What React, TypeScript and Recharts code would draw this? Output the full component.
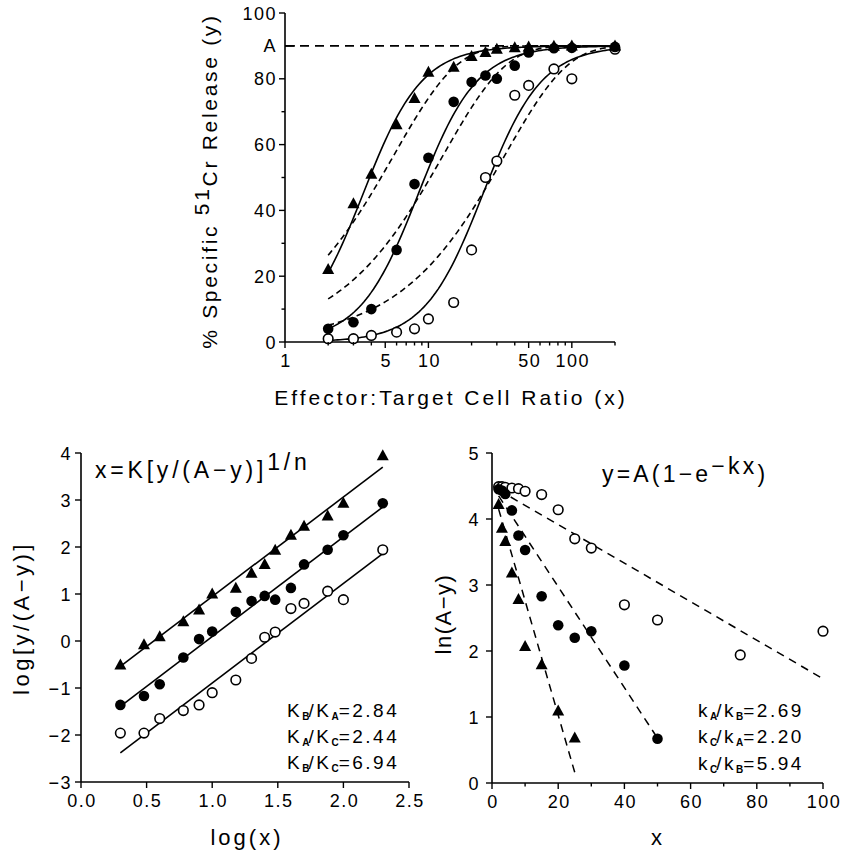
import React from 'react';
import { ComposedChart, Scatter, XAxis, YAxis, ReferenceLine } from 'recharts';

// ---------- shared constants ----------
const A_MAX = 90; // plateau "A"

// ---------- Top panel: % specific 51Cr release vs E:T ratio ----------
const ratioX = [2, 3, 4, 6, 8, 10, 15, 20, 25, 30, 40, 50, 75, 100, 200];
const releaseTriangle = [22, 42, 51, 66, 74, 82, 83.5, 86.8, 88, 89, 89.4, 89.7, 89.9, 90, 90];
const releaseFilled = [4, 6, 10, 28, 48, 56, 73, 79, 81, 80, 84, 88, 89.3, 89.4, 89.7];
const releaseOpen = [1, 1, 2, 3, 4, 7, 12, 28, 50, 55, 75, 78, 83, 80, 89];

// fitted model parameters (Hill: x=K[y/(A-y)]^(1/n); exponential: y=A(1-e^-kx))
const hillN = 2.12;
const hillK = { tri: 3.5, filled: 8.5, open: 24 };
const expK = { tri: 0.1735, filled: 0.0786, open: 0.0292 };
const curveStart = 2;
const curveEnd = 200;

const topXTicks = [1, 2, 3, 4, 5, 6, 7, 8, 9, 10, 20, 30, 40, 50, 60, 70, 80, 90, 100, 200];
const topXLabels: Record<string, string> = { '1': '1', '5': '5', '10': '10', '50': '50', '100': '100' };
const topYTicks = [0, 10, 20, 30, 40, 50, 60, 70, 80, 90, 100];
const topYLabels: Record<string, string> = { '0': '0', '20': '20', '40': '40', '60': '60', '80': '80', '100': '100', '90': 'A' };

// ---------- Bottom-left panel: log[y/(A-y)] vs log(x) ----------
const logX = [0.3, 0.48, 0.6, 0.78, 0.9, 1.0, 1.18, 1.3, 1.4, 1.48, 1.6, 1.7, 1.88, 2.0, 2.3];
const logRatioTriangle = [-0.51, -0.08, 0.09, 0.41, 0.66, 1.0, 1.12, 1.44, 1.63, 1.93, 2.25, 2.44, 2.66, 2.93, 3.94];
const logRatioFilled = [-1.36, -1.17, -0.92, -0.35, 0.04, 0.2, 0.62, 0.85, 0.96, 0.88, 1.13, 1.63, 1.94, 2.25, 2.93];
const logRatioOpen = [-1.96, -1.96, -1.65, -1.48, -1.36, -1.1, -0.83, -0.37, 0.08, 0.19, 0.69, 0.8, 1.06, 0.88, 1.94];
const logFitTriangle = [[0.3, -0.54], [2.3, 3.7]];
const logFitFilled = [[0.3, -1.39], [2.3, 2.85]];
const logFitOpen = [[0.3, -2.38], [2.3, 1.86]];
const blXTicks = [0, 0.5, 1, 1.5, 2, 2.5];
const blXLabels: Record<string, string> = { '0': '0.0', '0.5': '0.5', '1': '1.0', '1.5': '1.5', '2': '2.0', '2.5': '2.5' };
const blYTicks = [-3, -2, -1, 0, 1, 2, 3, 4];
const blYLabels: Record<string, string> = { '-3': '−3', '-2': '−2', '-1': '−1', '0': '0', '1': '1', '2': '2', '3': '3', '4': '4' };

// ---------- Bottom-right panel: ln(A-y) vs x ----------
const linX = [2, 3, 4, 6, 8, 10, 15, 20, 25, 30, 40, 50, 75, 100];
const lnTriangle = [4.22, 3.86, 3.66, 3.18, 2.78, 2.07, 1.79, 1.09, 0.68];
const lnFilled = [4.45, 4.43, 4.38, 4.13, 3.75, 3.53, 2.83, 2.39, 2.2, 2.3, 1.78, 0.67];
const lnOpen = [4.49, 4.49, 4.48, 4.47, 4.46, 4.42, 4.37, 4.14, 3.7, 3.56, 2.7, 2.47, 1.94, 2.3];
const lnFitTriangle = [[2, 4.15], [25, 0.16]];
const lnFitFilled = [[2, 4.35], [50, 0.68]];
const lnFitOpen = [[2, 4.44], [100, 1.58]];
const brXTicks = [0, 10, 20, 30, 40, 50, 60, 70, 80, 90, 100];
const brXLabels: Record<string, string> = { '0': '0', '20': '20', '40': '40', '60': '60', '80': '80', '100': '100' };
const brYTicks = [0, 1, 2, 3, 4, 5];
const brYLabels: Record<string, string> = { '0': '0', '1': '1', '2': '2', '3': '3', '4': '4', '5': '5' };

// ---------- helpers ----------
const zip = (xs: number[], ys: number[]) => ys.map((y, i) => ({ x: xs[i], y }));
const seg = (pts: number[][]) => pts.map(([x, y]) => ({ x, y }));

const logGrid = (() => {
  const out: number[] = [];
  const n = 120;
  const a = Math.log10(curveStart);
  const b = Math.log10(curveEnd);
  for (let i = 0; i <= n; i++) out.push(Math.pow(10, a + ((b - a) * i) / n));
  return out;
})();
const hillCurve = (K: number) =>
  logGrid.map((x) => ({ x, y: (A_MAX * Math.pow(x, hillN)) / (Math.pow(K, hillN) + Math.pow(x, hillN)) }));
const expCurve = (k: number) => logGrid.map((x) => ({ x, y: A_MAX * (1 - Math.exp(-k * x)) }));

const FONT = '"Liberation Sans", Arial, Helvetica, sans-serif';
const tickStyle: React.CSSProperties = { fontFamily: FONT, fontSize: 18, letterSpacing: 1.5, fill: '#000' };
const AX = { stroke: '#000', strokeWidth: 1.6 };

function makeXTick(labels: Record<string, string>, labelDy: number) {
  return (props: any) => {
    const { x, y, payload } = props;
    const label = labels[String(payload.value)];
    const major = label !== undefined;
    return (
      <g>
        <line x1={x} x2={x} y1={y} y2={y + (major ? 6 : 3.5)} stroke="#000" strokeWidth={1.4} />
        {major ? (
          <text x={x + 1} y={y + labelDy} textAnchor="middle" style={tickStyle}>
            {label}
          </text>
        ) : null}
      </g>
    );
  };
}

function makeYTick(labels: Record<string, string>, gap: number, inwardKey?: string) {
  return (props: any) => {
    const { x, y, payload } = props;
    const key = String(payload.value);
    const label = labels[key];
    const major = label !== undefined;
    const inward = key === inwardKey;
    return (
      <g>
        {inward ? (
          <line x1={x} x2={x + 10} y1={y} y2={y} stroke="#000" strokeWidth={1.6} />
        ) : (
          <line x1={x} x2={x - (major ? 6 : 3.5)} y1={y} y2={y} stroke="#000" strokeWidth={1.4} />
        )}
        {major ? (
          <text x={x - gap} y={y + 6.5} textAnchor="end" style={tickStyle}>
            {label}
          </text>
        ) : null}
      </g>
    );
  };
}

const Tri = (p: any) => {
  const { cx, cy } = p;
  if (cx == null || cy == null) return <g />;
  const s = 6;
  return <polygon points={`${cx},${cy - 6.5} ${cx - s},${cy + 4.5} ${cx + s},${cy + 4.5}`} fill="#000" />;
};
const Dot = (p: any) => {
  const { cx, cy } = p;
  if (cx == null || cy == null) return <g />;
  return <circle cx={cx} cy={cy} r={5.3} fill="#000" />;
};
const Ring = (p: any) => {
  const { cx, cy } = p;
  if (cx == null || cy == null) return <g />;
  return <circle cx={cx} cy={cy} r={4.8} fill="#fff" stroke="#000" strokeWidth={1.6} />;
};
const NoShape = () => <g />;

const solid = { stroke: '#000', strokeWidth: 1.6 };
const dashShort = { stroke: '#000', strokeWidth: 1.6, strokeDasharray: '6 4' };
const dashLong = { stroke: '#000', strokeWidth: 1.5, strokeDasharray: '8 6' };

function TopPanel() {
  return (
    <div style={{ position: 'absolute', left: 185, top: 0 }}>
      <ComposedChart width={440} height={420} margin={{ top: 13, right: 10, bottom: 0, left: 0 }}>
        <XAxis
          dataKey="x"
          type="number"
          scale="log"
          domain={[1, 200]}
          ticks={topXTicks}
          interval={0}
          tickSize={0}
          tickMargin={0}
          tickLine={false}
          axisLine={AX}
          height={78}
          tick={makeXTick(topXLabels, 25)}
        />
        <YAxis
          dataKey="y"
          type="number"
          domain={[0, 100]}
          ticks={topYTicks}
          interval={0}
          tickSize={0}
          tickMargin={0}
          tickLine={false}
          axisLine={AX}
          width={100}
          tick={makeYTick(topYLabels, 8, '90')}
        />
        <ReferenceLine y={A_MAX} stroke="#000" strokeWidth={1.6} strokeDasharray="9 6" />
        <Scatter data={hillCurve(hillK.tri)} line={solid} lineType="joint" shape={NoShape} isAnimationActive={false} />
        <Scatter data={hillCurve(hillK.filled)} line={solid} lineType="joint" shape={NoShape} isAnimationActive={false} />
        <Scatter data={hillCurve(hillK.open)} line={solid} lineType="joint" shape={NoShape} isAnimationActive={false} />
        <Scatter data={expCurve(expK.tri)} line={dashShort} lineType="joint" shape={NoShape} isAnimationActive={false} />
        <Scatter data={expCurve(expK.filled)} line={dashShort} lineType="joint" shape={NoShape} isAnimationActive={false} />
        <Scatter data={expCurve(expK.open)} line={dashShort} lineType="joint" shape={NoShape} isAnimationActive={false} />
        <Scatter data={zip(ratioX, releaseOpen)} shape={Ring} isAnimationActive={false} />
        <Scatter data={zip(ratioX, releaseTriangle)} shape={Tri} isAnimationActive={false} />
        <Scatter data={zip(ratioX, releaseFilled)} shape={Dot} isAnimationActive={false} />
      </ComposedChart>
    </div>
  );
}

function BottomLeftPanel() {
  return (
    <div style={{ position: 'absolute', left: 0, top: 430 }}>
      <ComposedChart width={440} height={425} margin={{ top: 23, right: 31, bottom: 0, left: 0 }}>
        <XAxis
          dataKey="x"
          type="number"
          domain={[0, 2.5]}
          ticks={blXTicks}
          interval={0}
          tickSize={0}
          tickMargin={0}
          tickLine={false}
          axisLine={AX}
          height={73}
          tick={makeXTick(blXLabels, 25)}
        />
        <YAxis
          dataKey="y"
          type="number"
          domain={[-3, 4]}
          ticks={blYTicks}
          interval={0}
          tickSize={0}
          tickMargin={0}
          tickLine={false}
          axisLine={AX}
          width={81}
          tick={makeYTick(blYLabels, 9)}
        />
        <Scatter data={seg(logFitTriangle)} line={solid} lineType="joint" shape={NoShape} isAnimationActive={false} />
        <Scatter data={seg(logFitFilled)} line={solid} lineType="joint" shape={NoShape} isAnimationActive={false} />
        <Scatter data={seg(logFitOpen)} line={solid} lineType="joint" shape={NoShape} isAnimationActive={false} />
        <Scatter data={zip(logX, logRatioOpen)} shape={Ring} isAnimationActive={false} />
        <Scatter data={zip(logX, logRatioFilled)} shape={Dot} isAnimationActive={false} />
        <Scatter data={zip(logX, logRatioTriangle)} shape={Tri} isAnimationActive={false} />
      </ComposedChart>
    </div>
  );
}

function BottomRightPanel() {
  return (
    <div style={{ position: 'absolute', left: 420, top: 430 }}>
      <ComposedChart width={421} height={425} margin={{ top: 23, right: 18, bottom: 0, left: 0 }}>
        <XAxis
          dataKey="x"
          type="number"
          domain={[0, 100]}
          ticks={brXTicks}
          interval={0}
          tickSize={0}
          tickMargin={0}
          tickLine={false}
          axisLine={AX}
          height={72}
          tick={makeXTick(brXLabels, 25)}
        />
        <YAxis
          dataKey="y"
          type="number"
          domain={[0, 5]}
          ticks={brYTicks}
          interval={0}
          tickSize={0}
          tickMargin={0}
          tickLine={false}
          axisLine={AX}
          width={72}
          tick={makeYTick(brYLabels, 12)}
        />
        <Scatter data={seg(lnFitTriangle)} line={dashLong} lineType="joint" shape={NoShape} isAnimationActive={false} />
        <Scatter data={seg(lnFitFilled)} line={dashLong} lineType="joint" shape={NoShape} isAnimationActive={false} />
        <Scatter data={seg(lnFitOpen)} line={dashLong} lineType="joint" shape={NoShape} isAnimationActive={false} />
        <Scatter data={zip(linX, lnOpen)} shape={Ring} isAnimationActive={false} />
        <Scatter data={zip(linX, lnFilled)} shape={Dot} isAnimationActive={false} />
        <Scatter data={zip(linX, lnTriangle)} shape={Tri} isAnimationActive={false} />
      </ComposedChart>
    </div>
  );
}

const TITLE: React.CSSProperties = { fontFamily: FONT, fontSize: 21, letterSpacing: 3, fill: '#000' };
const TITLE2: React.CSSProperties = { fontFamily: FONT, fontSize: 22, letterSpacing: 3, fill: '#000' };
const FORMULA: React.CSSProperties = { fontFamily: FONT, fontSize: 23, letterSpacing: 3.8, fill: '#000' };
const ANN: React.CSSProperties = { fontFamily: FONT, fontSize: 19, letterSpacing: 2.5, fill: '#000' };

function RatioText(props: { x: number; y: number; k: string; s1: string; s2: string; val: string }) {
  const { x, y, k, s1, s2, val } = props;
  return (
    <text x={x} y={y} style={ANN}>
      {k}
      <tspan dy={3} fontSize={10} fontWeight="bold" letterSpacing={0}>
        {s1}
      </tspan>
      <tspan dy={-3} dx={-1}>
        /{k}
      </tspan>
      <tspan dy={3} fontSize={10} fontWeight="bold" letterSpacing={0}>
        {s2}
      </tspan>
      <tspan dy={-3}>={val}</tspan>
    </text>
  );
}

function Overlay() {
  return (
    <svg width={841} height={855} style={{ position: 'absolute', left: 0, top: 0, pointerEvents: 'none' }}>
      {/* top panel titles */}
      <text x={451} y={405} textAnchor="middle" style={TITLE}>
        Effector:Target Cell Ratio (x)
      </text>
      <text transform="translate(217,181) rotate(-90)" textAnchor="middle" style={{ ...TITLE, letterSpacing: 2.7 }}>
        % Specific <tspan dy={-8}>51</tspan>
        <tspan dy={8}>Cr Release (y)</tspan>
      </text>

      {/* bottom-left titles */}
      <text x={247} y={845} textAnchor="middle" style={TITLE2}>
        log(x)
      </text>
      <text transform="translate(29,618) rotate(-90)" textAnchor="middle" style={{ ...TITLE2, letterSpacing: 3.5 }}>
        log[y/(A−y)]
      </text>
      <text x={95} y={478} style={FORMULA}>
        x=K[y/(A−y)]<tspan dy={-8}>1/n</tspan>
      </text>
      <RatioText x={287} y={717} k="K" s1="B" s2="A" val="2.84" />
      <RatioText x={287} y={743} k="K" s1="A" s2="C" val="2.44" />
      <RatioText x={287} y={769} k="K" s1="B" s2="C" val="6.94" />

      {/* bottom-right titles */}
      <text x={658} y={845} textAnchor="middle" style={TITLE2}>
        x
      </text>
      <text transform="translate(451,614) rotate(-90)" textAnchor="middle" style={{ ...TITLE2, letterSpacing: 1.5 }}>
        ln(A−y)
      </text>
      <text x={602} y={482} style={{ ...FORMULA, letterSpacing: 3.2 }}>
        y=A(1−e<tspan dy={-8}>−kx</tspan>
        <tspan dy={8}>)</tspan>
      </text>
      <RatioText x={698} y={717} k="k" s1="A" s2="B" val="2.69" />
      <RatioText x={698} y={743} k="k" s1="C" s2="A" val="2.20" />
      <RatioText x={698} y={770} k="k" s1="C" s2="B" val="5.94" />
    </svg>
  );
}

export default function App() {
  return (
    <div style={{ position: 'absolute', left: 0, top: 0, width: 841, height: 855, background: '#fff' }}>
      <TopPanel />
      <BottomLeftPanel />
      <BottomRightPanel />
      <Overlay />
    </div>
  );
}
